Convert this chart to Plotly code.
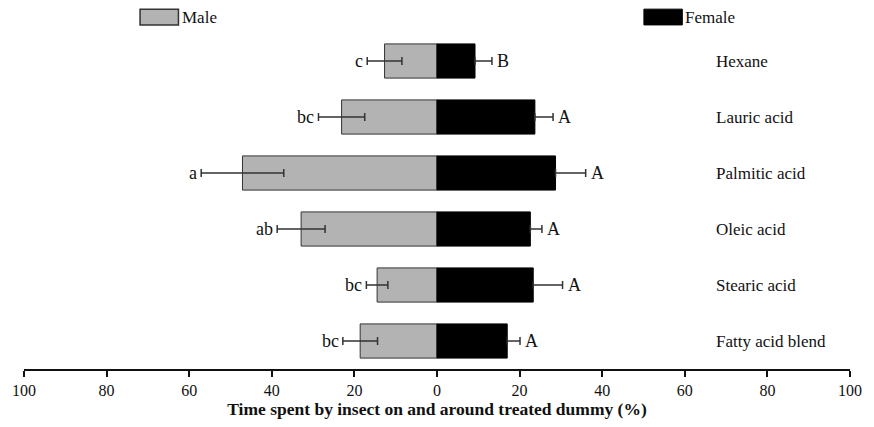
import plotly.graph_objects as go

categories = ["Hexane", "Lauric acid", "Palmitic acid", "Oleic acid", "Stearic acid", "Fatty acid blend"]
male = [12.7, 23.1, 47.1, 32.9, 14.5, 18.6]
male_err = [4.2, 5.6, 10.0, 5.8, 2.6, 4.2]
female = [9.2, 23.7, 28.7, 22.6, 23.3, 17.0]
female_err = [4.1, 4.4, 7.3, 2.8, 7.1, 3.1]
male_letters = ["c", "bc", "a", "ab", "bc", "bc"]
female_letters = ["B", "A", "A", "A", "A", "A"]
tick_vals = [-100, -80, -60, -40, -20, 0, 20, 40, 60, 80, 100]
tick_text = ["100", "80", "60", "40", "20", "0", "20", "40", "60", "80", "100"]

FONT = "Liberation Serif"

fig = go.Figure()
fig.add_trace(go.Bar(
    y=categories, x=[-v for v in male], orientation="h", name="Male",
    marker=dict(color="#b3b3b3", line=dict(color="#333333", width=1)),
    error_x=dict(type="data", array=male_err, color="#333333", thickness=1.5, width=4),
))
fig.add_trace(go.Bar(
    y=categories, x=female, orientation="h", name="Female",
    marker=dict(color="#000000", line=dict(color="#000000", width=1)),
    error_x=dict(type="data", array=female_err, arrayminus=[0] * len(female_err),
                 symmetric=False, color="#333333", thickness=1.5, width=4),
))

annotations = []
for cat, m, me, ml in zip(categories, male, male_err, male_letters):
    annotations.append(dict(x=-(m + me), y=cat, text=ml, showarrow=False, xanchor="right",
                            xshift=-2, font=dict(family=FONT, size=18, color="#111")))
for cat, f, fe, fl in zip(categories, female, female_err, female_letters):
    annotations.append(dict(x=f + fe, y=cat, text=fl, showarrow=False, xanchor="left",
                            xshift=3, font=dict(family=FONT, size=18, color="#111")))
for cat in categories:
    annotations.append(dict(x=67, y=cat, text=cat, showarrow=False, xanchor="left",
                            font=dict(family=FONT, size=17, color="#111")))

# legend (manual)
annotations.append(dict(x=-62.3, y=1.047, yref="paper", yanchor="middle", text="Male", showarrow=False,
                        xanchor="left", font=dict(family=FONT, size=17, color="#111")))
annotations.append(dict(x=59.6, y=1.047, yref="paper", yanchor="middle", text="Female", showarrow=False,
                        xanchor="left", font=dict(family=FONT, size=17, color="#111")))
shapes = [
    dict(type="rect", xref="x", yref="paper", x0=-71.9, x1=-62.6, y0=1.024, y1=1.071,
         fillcolor="#b3b3b3", line=dict(color="#333333", width=1.5)),
    dict(type="rect", xref="x", yref="paper", x0=50.1, x1=59.4, y0=1.024, y1=1.071,
         fillcolor="#000000", line=dict(color="#000000", width=1)),
]

fig.update_layout(
    width=874, height=427,
    margin=dict(l=20, r=19, t=33, b=56),
    paper_bgcolor="white", plot_bgcolor="white",
    barmode="overlay", bargap=0.39,
    showlegend=False,
    annotations=annotations, shapes=shapes,
    font=dict(family=FONT, size=16, color="#111"),
    xaxis=dict(range=[-100, 100], tickvals=tick_vals, ticktext=tick_text,
               showline=True, linecolor="#111", linewidth=2, ticks="outside", ticklen=6,
               tickwidth=2, tickcolor="#111", showgrid=False, zeroline=False,
               tickfont=dict(family=FONT, size=16, color="#111"),
               title=dict(text="<b>Time spent by insect on and around treated dummy (%)</b>",
                          font=dict(family=FONT, size=17.5, color="#111"), standoff=4)),
    yaxis=dict(autorange="reversed", visible=False, range=[5.5, -0.5]),
)

fig.write_html("out.html")
